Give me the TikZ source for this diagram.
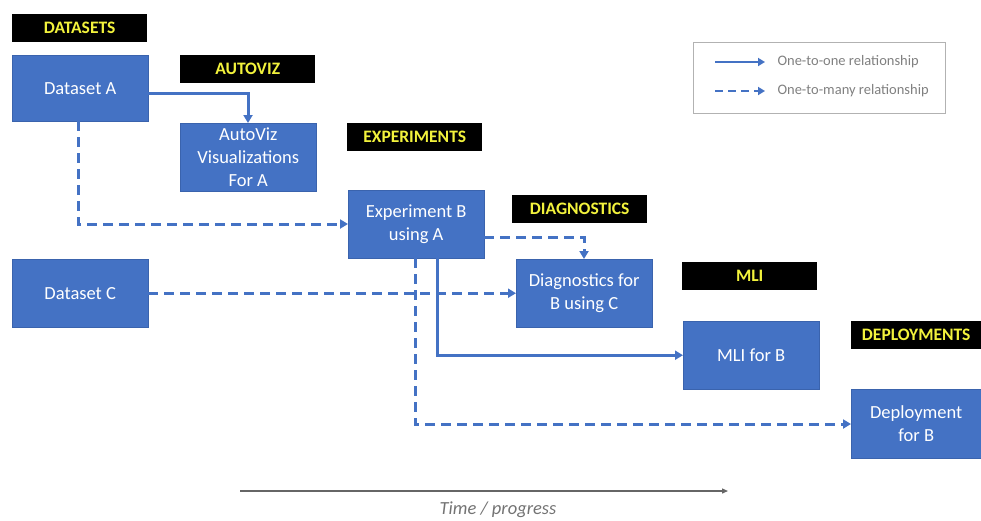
\documentclass[tikz,border=0pt]{standalone}
\usepackage{fontspec}
\setmainfont{Carlito}
\usetikzlibrary{arrows.meta,calc,positioning}
\definecolor{boxblue}{HTML}{4472C4}
\definecolor{boxedge}{HTML}{3A63AD}
\definecolor{tagyellow}{HTML}{F2F23C}

\begin{document}
\begin{tikzpicture}[x=1pt, y=-1pt, >={Triangle[length=8pt,width=9pt]},
  box/.style={draw=boxedge, fill=boxblue, text=white, align=center, minimum width=136pt,
    minimum height=68pt, font=\fontsize{18.5}{23}\selectfont, anchor=north west, inner sep=2pt},
  tag/.style={fill=black, text=tagyellow, minimum width=135pt, minimum height=28pt,
    font=\fontsize{17.5}{19}\selectfont\bfseries, anchor=north west, inner sep=0pt},
  link/.style={draw=boxblue, line width=3pt, ->},
  many/.style={link, dash pattern=on 10pt off 6pt}]
  \useasboundingbox (0,0) rectangle (981,520);
  % stages
  \node[tag] (tdata) at (12,14) {DATASETS};
  \node[tag] (tviz) at (180,55) {AUTOVIZ};
  \node[tag] (texp) at (347,123) {EXPERIMENTS};
  \node[tag] (tdiag) at (512,195) {DIAGNOSTICS};
  \node[tag] (tmli) at (682,262) {MLI};
  \node[tag, minimum width=130pt] (tdep) at (851,321) {DEPLOYMENTS};
  % boxes
  \node[box, minimum height=66pt] (dsa) at (12,55) {Dataset A};
  \node[box] (viz) at (180,123) {AutoViz\\Visualizations\\For A};
  \node[box] (expb) at (348,190) {Experiment B\\using A};
  \node[box] (dsc) at (12,259) {Dataset C};
  \node[box] (diag) at (516,259) {Diagnostics for\\B using C};
  \node[box] (mli) at (683,321) {MLI for B};
  \node[box, minimum width=130pt, minimum height=69pt] (dep) at (851,389) {Deployment\\for B};
  % connectors
  \draw[link] (dsa.east |- 0,93) -| (viz.north -| 248,0);
  \draw[many] (dsa.south -| 78,0) |- (expb.west |- 0,224);
  \draw[many] (expb.east |- 0,237) -| (diag.north -| 584,0);
  \draw[many] (dsc) -- (diag.west |- dsc);
  \draw[link] (expb.south -| 437,0) |- (mli);
  \draw[many] (expb.south -| 415,0) |- (dep.west |- 0,424);
  % legend
  \node[draw=gray!60, line width=0.8pt, minimum width=252pt, minimum height=71pt, anchor=north west] (legend) at (693,42) {};
  \coordinate (l1) at (715,62);
  \coordinate (l2) at (715,91);
  \draw[link, line width=2.4pt, >={Triangle[length=7pt,width=8pt]}] (l1) -- ++(50,0)
    node[right=8pt, text=gray, font=\fontsize{14.5}{16}\selectfont] (lone) {One-to-one relationship};
  \draw[many, line width=2.4pt, dash pattern=on 8pt off 5pt, >={Triangle[length=7pt,width=8pt]}] (l2) -- ++(50,0)
    node[right=8pt, text=gray, font=\fontsize{14.5}{16}\selectfont] (lmany) {One-to-many relationship};
  % time axis
  \coordinate (t0) at (240,491);
  \coordinate (t1) at (728,491);
  \draw[gray!80!black, line width=1.3pt, -{Triangle[length=6pt,width=5pt]}] (t0) -- (t1);
  \node[text=gray!90!black, font=\fontsize{18.5}{20}\selectfont\itshape] (time) at (498,510) {Time / progress};
\end{tikzpicture}
\end{document}
